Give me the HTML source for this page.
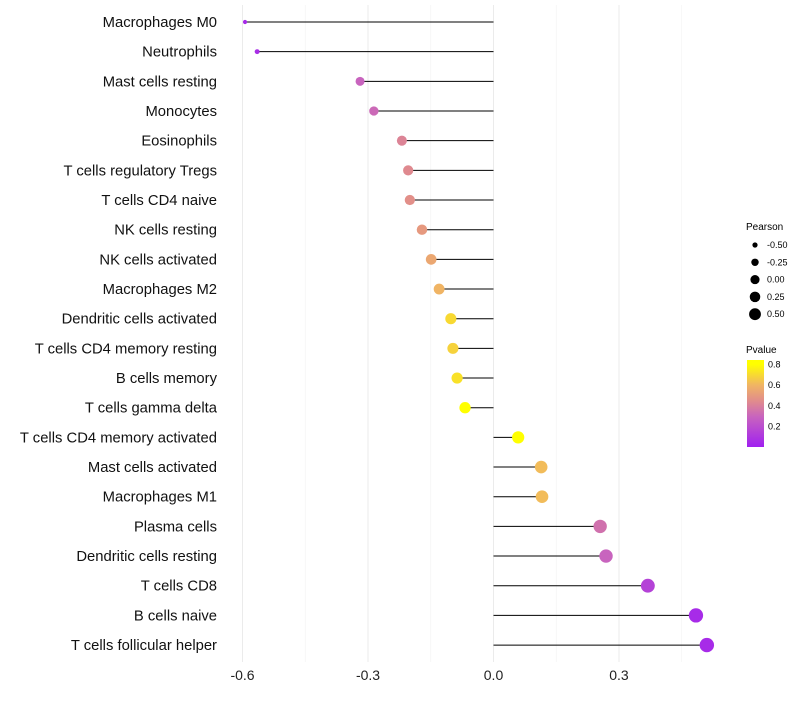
<!DOCTYPE html>
<html><head><meta charset="utf-8"><style>
body{margin:0;background:#fff;font-family:"Liberation Sans",sans-serif}
</style></head><body>
<svg id="chart" width="800" height="700" font-family="Liberation Sans, sans-serif">
<defs><linearGradient id="pg" x1="0" y1="1" x2="0" y2="0">
<stop offset="0" stop-color="#a020f0"/><stop offset="0.35" stop-color="#c864be"/><stop offset="0.53" stop-color="#e18c8c"/><stop offset="0.71" stop-color="#f0b464"/><stop offset="0.95" stop-color="#ffff00"/><stop offset="1" stop-color="#ffff00"/></linearGradient></defs>
<g id="grid"></g><g id="marks"></g><g id="labels"></g>
<g font-size="9">
<text x="746" y="230" font-size="10">Pearson</text>
<g id="sizeleg"></g>
</g>
<g font-size="9">
<text x="746" y="353" font-size="10">Pvalue</text>
<rect x="747" y="360" width="17" height="87" fill="url(#pg)"/>
<g id="pleg"></g>
</g>
</svg>
<script>
const categories=["Macrophages M0","Neutrophils","Mast cells resting","Monocytes","Eosinophils","T cells regulatory  Tregs","T cells CD4 naive","NK cells resting","NK cells activated","Macrophages M2","Dendritic cells activated","T cells CD4 memory resting","B cells memory","T cells gamma delta","T cells CD4 memory activated","Mast cells activated","Macrophages M1","Plasma cells","Dendritic cells resting","T cells CD8","B cells naive","T cells follicular helper"];
const pearson=[-0.594,-0.565,-0.319,-0.286,-0.219,-0.204,-0.2,-0.171,-0.149,-0.13,-0.102,-0.097,-0.087,-0.068,0.059,0.114,0.116,0.255,0.269,0.369,0.484,0.51];
const pvalue=[0.05,0.06,0.3,0.32,0.42,0.44,0.46,0.5,0.55,0.6,0.7,0.68,0.72,0.8,0.85,0.62,0.62,0.35,0.3,0.15,0.05,0.05];
const xTicks=[-0.6,-0.3,0.0,0.3];
const xMinor=[-0.45,-0.15,0.15,0.45];
const sizeLegend=[-0.5,-0.25,0,0.25,0.5];
const pTicks=[0.2,0.4,0.6,0.8];
const NS="http://www.w3.org/2000/svg";
const X=v=>493.5+v*418.3;
const Y=i=>22+i*29.67;
const R=v=>{const t=Math.max(0,v+0.6);return Math.sqrt(4+t*62-t*t*17);};
const RL=v=>Math.sqrt(4+Math.max(0,v+0.6)*28);
const stops=[[0,[160,32,240]],[0.3,[200,100,190]],[0.45,[225,140,140]],[0.6,[240,180,100]],[0.8,[255,255,0]]];
function col(p){for(let i=0;i<stops.length-1;i++){const a=stops[i],b=stops[i+1];if(p<=b[0]||i==stops.length-2){let t=Math.max(0,Math.min(1,(p-a[0])/(b[0]-a[0])));return "rgb("+a[1].map((c,k)=>Math.round(c+(b[1][k]-c)*t)).join(",")+")";}}}
const PY=p=>447-p*103;
function mk(t,a,parent){const e=document.createElementNS(NS,t);for(const k in a)e.setAttribute(k,a[k]);document.getElementById(parent).appendChild(e);return e;}
xMinor.forEach(v=>{const l=mk("line",{x1:X(v),x2:X(v),y1:5,y2:662,stroke:"#f2f2f2","stroke-width":0.6},"grid");

});
xTicks.forEach(v=>{const l=mk("line",{x1:X(v),x2:X(v),y1:5,y2:662,stroke:"#ebebeb","stroke-width":1},"grid");


const t=mk("text",{x:X(v),y:680,"text-anchor":"middle","font-size":14,fill:"#222"},"grid");t.textContent=v.toFixed(1);

});
categories.forEach((c,i)=>{
const l=mk("line",{x1:X(0),x2:X(pearson[i]),y1:Y(i),y2:Y(i),stroke:"#000","stroke-width":1},"marks");


const d=mk("circle",{cx:X(pearson[i]),cy:Y(i),r:R(pearson[i]),fill:col(pvalue[i])},"marks");


const t=mk("text",{x:217,y:Y(i)+5,"text-anchor":"end","font-size":14.8,fill:"#111"},"labels");t.textContent=c;

});
sizeLegend.forEach((v,i)=>{const y=245+i*17.3;
const d=mk("circle",{cx:755,cy:y,r:RL(v)},"sizeleg");


const t=mk("text",{x:767,y:y+3},"sizeleg");t.textContent=v.toFixed(2);

});
pTicks.forEach(p=>{const t=mk("text",{x:768,y:PY(p)+3},"pleg");t.textContent=p.toFixed(1);

});
</script>
</body></html>
